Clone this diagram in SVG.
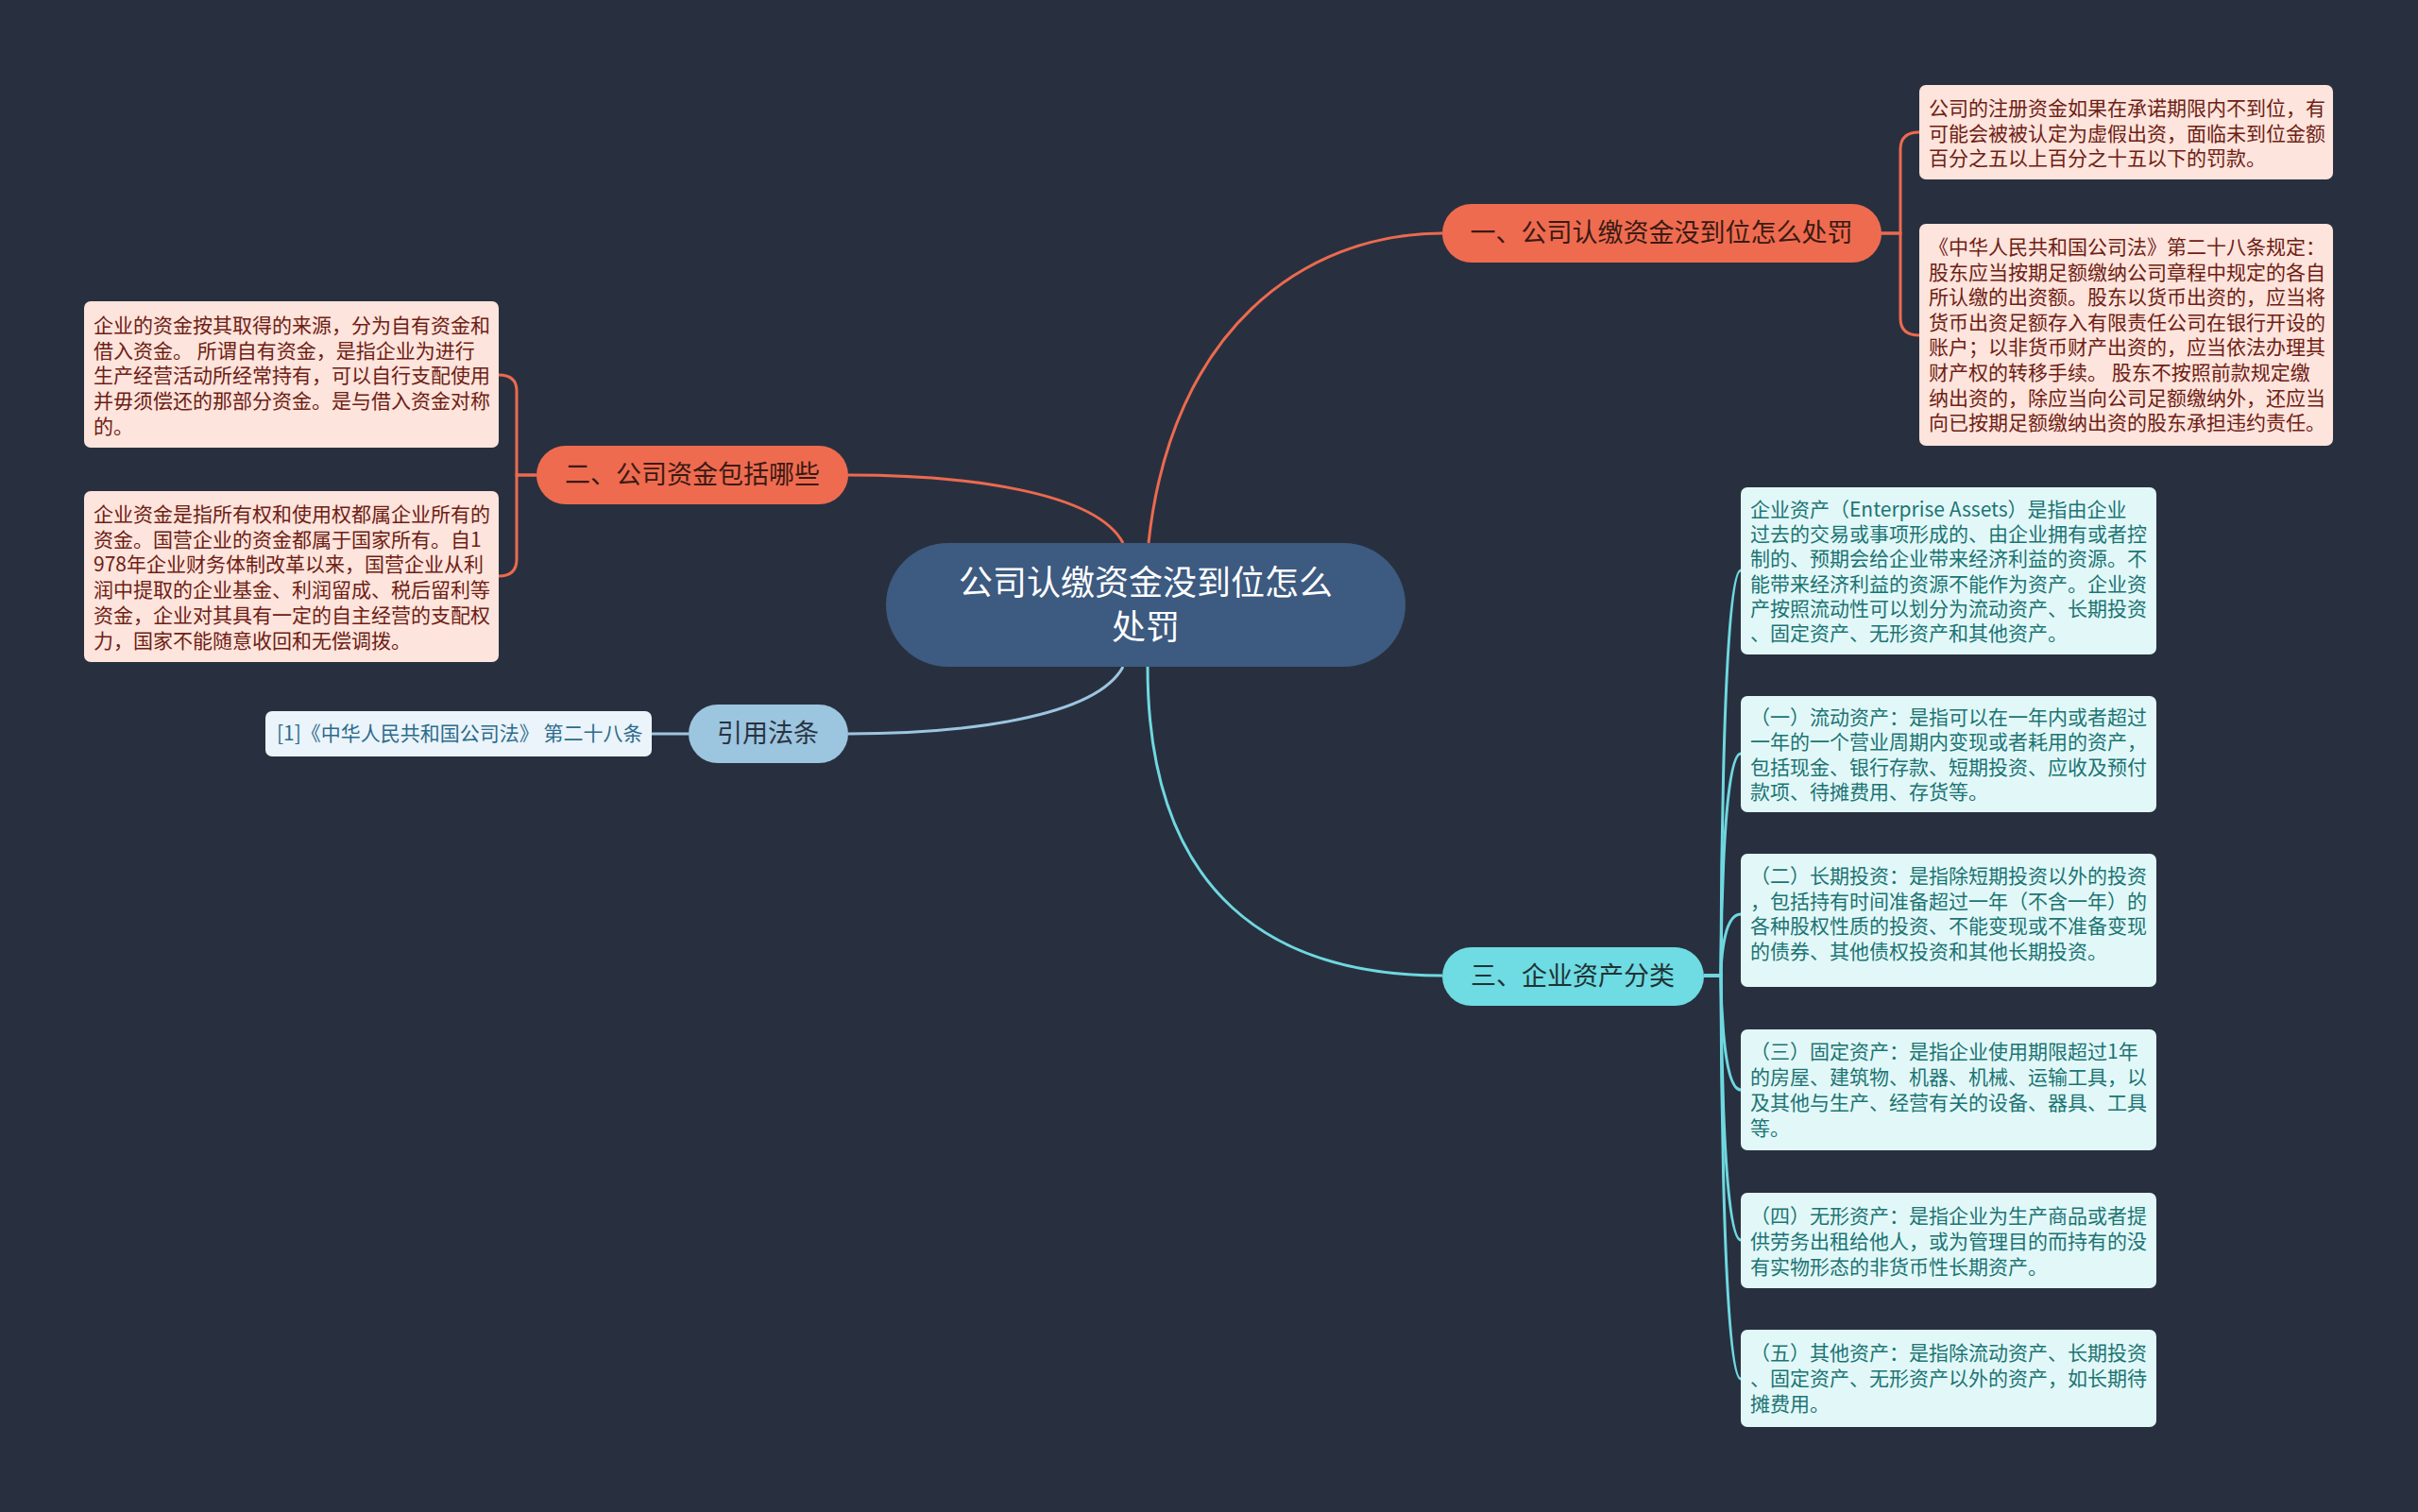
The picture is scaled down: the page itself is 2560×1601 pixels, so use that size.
<svg xmlns="http://www.w3.org/2000/svg" width="2560" height="1601" viewBox="0 0 2560 1601">
<style>
text{font-family:"Noto Sans CJK SC","Noto Sans",sans-serif;}
.leafP{fill:#fde4dc;}
.leafC{fill:#e2f8f8;}
.leafB{fill:#eaf4fa;}
.tP{font-size:21px;fill:#6e2014;}
.tC{font-size:21px;fill:#1c7474;}
.tB{font-size:21px;fill:#2d6b8c;}
.nodeT{font-size:27px;text-anchor:middle;}
.lnO{fill:none;stroke:#ec6a4f;stroke-width:3;}
.lnC{fill:none;stroke:#6fd8e0;stroke-width:3;}
.lnB{fill:none;stroke:#9cc5e0;stroke-width:3;}
</style>
<rect x="0" y="0" width="2560" height="1601" fill="#28303f"/>
<g id="connectors">
<path class="lnO" d="M1216,575 C1240,350 1380,247 1527,247"/>
<path class="lnO" d="M1189,575 C1160,520 1020,503 898,503"/>
<path class="lnB" d="M1189,706 C1160,760 1020,777 898,777"/>
<path class="lnC" d="M1215,706 C1215,950 1350,1033 1527,1033"/>
<path class="lnO" d="M1992,247 H2012 V158 Q2012,140 2032,140"/>
<path class="lnO" d="M1992,247 H2012 V337 Q2012,355 2032,355"/>
<path class="lnO" d="M568,503 H547 V414 Q547,397 528,397"/>
<path class="lnO" d="M568,503 H547 V592 Q547,610 528,610"/>
<path class="lnB" d="M729,777 H690"/>
<path class="lnC" d="M1804,1033 H1822 C1822,1033 1822,604 1843,604"/>
<path class="lnC" d="M1804,1033 H1822 C1822,1033 1822,798 1843,798"/>
<path class="lnC" d="M1804,1033 H1822 C1822,1033 1822,968 1843,968"/>
<path class="lnC" d="M1804,1033 H1822 C1822,1033 1822,1154 1843,1154"/>
<path class="lnC" d="M1804,1033 H1822 C1822,1033 1822,1313 1843,1313"/>
<path class="lnC" d="M1804,1033 H1822 C1822,1033 1822,1460 1843,1460"/>
</g>
<g id="root">
<rect x="938" y="575" width="550" height="131" rx="65.5" fill="#3d5a80"/>
<text x="1213" y="630" text-anchor="middle" font-size="36" fill="#ffffff">公司认缴资金没到位怎么<tspan x="1213" dy="47">处罚</tspan></text>
</g>
<g id="branch1">
<rect x="1527" y="216" width="465" height="62" rx="31" fill="#ef6b4f"/>
<text class="nodeT" x="1759" y="256" fill="#3a1a14">一、公司认缴资金没到位怎么处罚</text>
</g>
<g id="branch2">
<rect x="568" y="472" width="330" height="62" rx="31" fill="#ef6b4f"/>
<text class="nodeT" x="733" y="512" fill="#3a1a14">二、公司资金包括哪些</text>
</g>
<g id="cite">
<rect x="729" y="746" width="169" height="62" rx="31" fill="#9cc5e0"/>
<text class="nodeT" x="813" y="786" fill="#2a3440">引用法条</text>
</g>
<g id="branch3">
<rect x="1527" y="1003" width="277" height="62" rx="31" fill="#6fdbe2"/>
<text class="nodeT" x="1665" y="1043" fill="#1e3336">三、企业资产分类</text>
</g>
<g id="leaf1a">
<rect class="leafP" x="2032" y="90" width="438" height="100" rx="7"/>
<text class="tP" x="2042" y="122">公司的注册资金如果在承诺期限内不到位，有<tspan x="2042" dy="26.7">可能会被被认定为虚假出资，面临未到位金额</tspan><tspan x="2042" dy="26.7">百分之五以上百分之十五以下的罚款。</tspan></text>
</g>
<g id="leaf1b">
<rect class="leafP" x="2032" y="237" width="438" height="235" rx="7"/>
<text class="tP" x="2042" y="269">《中华人民共和国公司法》第二十八条规定：<tspan x="2042" dy="26.6">股东应当按期足额缴纳公司章程中规定的各自</tspan><tspan x="2042" dy="26.6">所认缴的出资额。股东以货币出资的，应当将</tspan><tspan x="2042" dy="26.6">货币出资足额存入有限责任公司在银行开设的</tspan><tspan x="2042" dy="26.6">账户；以非货币财产出资的，应当依法办理其</tspan><tspan x="2042" dy="26.6">财产权的转移手续。 股东不按照前款规定缴</tspan><tspan x="2042" dy="26.6">纳出资的，除应当向公司足额缴纳外，还应当</tspan><tspan x="2042" dy="26.6">向已按期足额缴纳出资的股东承担违约责任。</tspan></text>
</g>
<g id="leaf2a">
<rect class="leafP" x="89" y="319" width="439" height="155" rx="7"/>
<text class="tP" x="99" y="352">企业的资金按其取得的来源，分为自有资金和<tspan x="99" dy="26.7">借入资金。 所谓自有资金，是指企业为进行</tspan><tspan x="99" dy="26.7">生产经营活动所经常持有，可以自行支配使用</tspan><tspan x="99" dy="26.7">并毋须偿还的那部分资金。是与借入资金对称</tspan><tspan x="99" dy="26.7">的。</tspan></text>
</g>
<g id="leaf2b">
<rect class="leafP" x="89" y="520" width="439" height="181" rx="7"/>
<text class="tP" x="99" y="552">企业资金是指所有权和使用权都属企业所有的<tspan x="99" dy="26.7">资金。国营企业的资金都属于国家所有。自1</tspan><tspan x="99" dy="26.7">978年企业财务体制改革以来，国营企业从利</tspan><tspan x="99" dy="26.7">润中提取的企业基金、利润留成、税后留利等</tspan><tspan x="99" dy="26.7">资金，企业对其具有一定的自主经营的支配权</tspan><tspan x="99" dy="26.7">力，国家不能随意收回和无偿调拨。</tspan></text>
</g>
<g id="citeLeaf">
<rect class="leafB" x="281" y="753" width="409" height="48" rx="7"/>
<text class="tB" x="293" y="784">[1]《中华人民共和国公司法》 第二十八条</text>
</g>
<g id="leaf3a">
<rect class="leafC" x="1843" y="516" width="440" height="177" rx="7"/>
<text class="tC" x="1853" y="547">企业资产（Enterprise Assets）是指由企业<tspan x="1853" dy="26.2">过去的交易或事项形成的、由企业拥有或者控</tspan><tspan x="1853" dy="26.2">制的、预期会给企业带来经济利益的资源。不</tspan><tspan x="1853" dy="26.2">能带来经济利益的资源不能作为资产。企业资</tspan><tspan x="1853" dy="26.2">产按照流动性可以划分为流动资产、长期投资</tspan><tspan x="1853" dy="26.2">、固定资产、无形资产和其他资产。</tspan></text>
</g>
<g id="leaf3b">
<rect class="leafC" x="1843" y="737" width="440" height="123" rx="7"/>
<text class="tC" x="1853" y="767">（一）流动资产：是指可以在一年内或者超过<tspan x="1853" dy="26.4">一年的一个营业周期内变现或者耗用的资产，</tspan><tspan x="1853" dy="26.4">包括现金、银行存款、短期投资、应收及预付</tspan><tspan x="1853" dy="26.4">款项、待摊费用、存货等。</tspan></text>
</g>
<g id="leaf3c">
<rect class="leafC" x="1843" y="904" width="440" height="141" rx="7"/>
<text class="tC" x="1853" y="935">（二）长期投资：是指除短期投资以外的投资<tspan x="1853" dy="26.7">，包括持有时间准备超过一年（不含一年）的</tspan><tspan x="1853" dy="26.7">各种股权性质的投资、不能变现或不准备变现</tspan><tspan x="1853" dy="26.7">的债券、其他债权投资和其他长期投资。</tspan></text>
</g>
<g id="leaf3d">
<rect class="leafC" x="1843" y="1090" width="440" height="128" rx="7"/>
<text class="tC" x="1853" y="1121">（三）固定资产：是指企业使用期限超过1年<tspan x="1853" dy="27">的房屋、建筑物、机器、机械、运输工具，以</tspan><tspan x="1853" dy="27">及其他与生产、经营有关的设备、器具、工具</tspan><tspan x="1853" dy="27">等。</tspan></text>
</g>
<g id="leaf3e">
<rect class="leafC" x="1843" y="1263" width="440" height="101" rx="7"/>
<text class="tC" x="1853" y="1295">（四）无形资产：是指企业为生产商品或者提<tspan x="1853" dy="27">供劳务出租给他人，或为管理目的而持有的没</tspan><tspan x="1853" dy="27">有实物形态的非货币性长期资产。</tspan></text>
</g>
<g id="leaf3f">
<rect class="leafC" x="1843" y="1408" width="440" height="103" rx="7"/>
<text class="tC" x="1853" y="1440">（五）其他资产：是指除流动资产、长期投资<tspan x="1853" dy="27">、固定资产、无形资产以外的资产，如长期待</tspan><tspan x="1853" dy="27">摊费用。</tspan></text>
</g>
</svg>
